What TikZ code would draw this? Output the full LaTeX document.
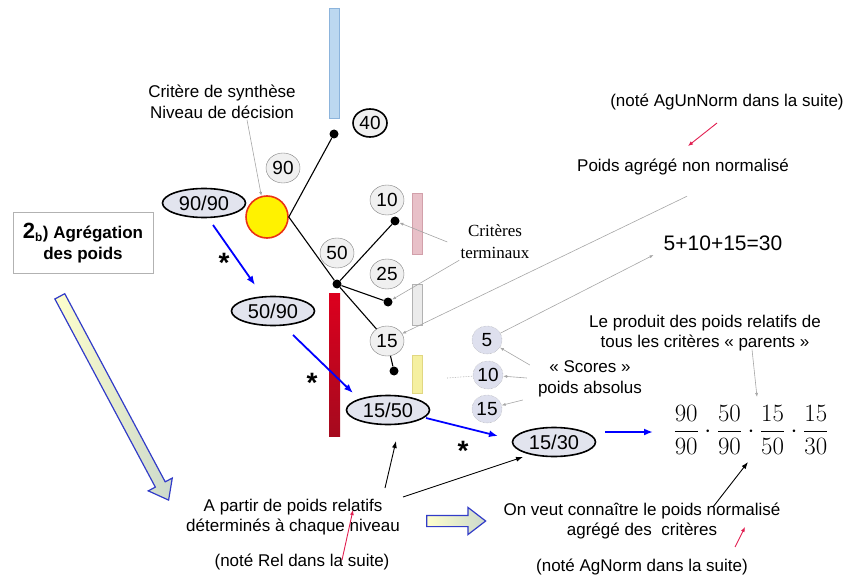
\documentclass[tikz,border=0pt]{standalone}
\usepackage[no-math]{fontspec}
\setmainfont{Liberation Sans}
\newfontfamily\timesfont{Liberation Serif}
\usetikzlibrary{arrows.meta,shapes.geometric,shapes.arrows}

\definecolor{ratiofill}{RGB}{226,228,238}
\definecolor{scorefill}{RGB}{222,224,238}
\definecolor{arrowblue}{RGB}{50,60,200}
\definecolor{notered}{RGB}{225,30,80}

\begin{document}
\begin{tikzpicture}[x=1pt,y=-1pt,>=latex,
  txt/.style={font=\fontsize{17}{20.5}\selectfont, align=center, inner sep=1pt},
  wt/.style={ellipse, draw=gray, fill=black!6, minimum width=34pt, minimum height=30pt, inner sep=0pt, font=\fontsize{19}{19}\selectfont},
  sc/.style={ellipse, draw=gray!80, densely dotted, fill=scorefill, minimum width=30pt, minimum height=28pt, inner sep=0pt, font=\fontsize{19}{19}\selectfont},
  ratio/.style={ellipse, draw, line width=1.6pt, fill=ratiofill, minimum width=83pt, minimum height=29pt, inner sep=0pt, font=\fontsize{20}{20}\selectfont},
  knot/.style={circle, fill, inner sep=0pt, minimum size=9pt},
  bar/.style={rectangle, inner sep=0pt, minimum width=10pt},
  tree/.style={line width=1.1pt},
  gline/.style={draw=gray!70, line width=0.6pt, -{Latex[length=4pt,width=3pt]}},
  bline/.style={line width=0.9pt, -{Latex[length=7pt,width=5pt]}},
  rline/.style={draw=notered, line width=0.9pt, -{Latex[length=5pt,width=4pt]}},
  weight/.style={draw=blue, line width=1.8pt, -{Latex[length=9pt,width=7pt]}},
  star/.style={font=\fontsize{28}{28}\bfseries, inner sep=0pt},
  hollow/.style={single arrow, draw=arrowblue, line width=1.2pt, inner sep=5pt,
    single arrow head extend=8pt, single arrow tip angle=75,
    left color=yellow!20, right color=green!15!gray!35}]
  \useasboundingbox (0,0) rectangle (845,577);

  \node[bar, fill={rgb,255:red,188;green,216;blue,240}, draw={rgb,255:red,140;green,180;blue,220}, minimum height=110pt] (bbar) at (334.5,63) {};
  \node[bar, top color={rgb,255:red,220;green,0;blue,30}, bottom color={rgb,255:red,165;green,10;blue,30}, minimum width=11pt, minimum height=143pt] (rbar) at (334.5,365) {};
  \node[bar, fill={rgb,255:red,232;green,192;blue,200}, draw={rgb,255:red,210;green,160;blue,170}, minimum height=61pt] (pbar) at (417,223.5) {};
  \node[bar, fill=black!8, draw=black!30, minimum height=41pt] (gbar) at (417,304.5) {};
  \node[bar, fill={rgb,255:red,245;green,240;blue,160}, draw={rgb,255:red,225;green,215;blue,130}, minimum height=38pt] (ybar) at (417,374) {};

  \node[knot] (d40)  at (334,134) {};
  \node[circle, draw={rgb,255:red,235;green,50;blue,20}, line width=1.6pt, fill=yellow, minimum size=42pt] (yel) at (267,217) {};
  \node[knot] (junc) at (337,284) {};
  \node[knot] (d10)  at (395,221) {};
  \node[knot] (d25)  at (388,302) {};
  \node[knot] (d15)  at (394,371) {};
  \node[wt, draw=black, line width=1.6pt, minimum height=28pt] (c40) at (370,123) {40};
  \node[wt] (c90) at (283,168) {90};
  \node[wt] (c50) at (337,253) {50};
  \node[wt] (c10) at (387,200) {10};
  \node[wt] (c25) at (387,274) {25};
  \node[wt] (c15) at (387,341) {15};
  \draw[tree] (d40) -- (yel.east) -- (junc);
  \draw[tree] (junc) -- (d10);
  \draw[tree] (junc) -- (d25);
  \draw[tree] (junc) -- (c15) -- (d15);

  \node[ratio] (r9090) at (204,203) {90/90};
  \node[ratio] (r5090) at (273,311) {50/90};
  \node[ratio] (r1550) at (388,410) {15/50};
  \node[ratio] (r1530) at (554,442) {15/30};

  \node[sc] (s5)  at (487,340) {5};
  \node[sc] (s10) at (488,375) {10};
  \node[sc] (s15) at (487,409) {15};

  \node[txt] (synth)   at (222,102) {Critère de synthèse\\Niveau de décision};
  \node[txt] (aunn)    at (727,102) {(noté AgUnNorm dans la suite)};
  \node[txt] (pann)    at (683,167) {Poids agrégé non normalisé};
  \node[txt, font=\fontsize{21}{21}\selectfont] (sum) at (723,243) {5+10+15=30};
  \node[txt, font=\timesfont\fontsize{17}{22}\selectfont] (critt) at (495,242) {Critères\\terminaux};
  \node[txt] (prodtxt) at (705,333) {Le produit des poids relatifs de\\tous les critères « parents »};
  \node[txt] (scores)  at (590,379) {« Scores »\\poids absolus};
  \node (prod) at (751,430) {\fontsize{24.88}{30}\selectfont $\displaystyle\frac{90}{90}\cdot\frac{50}{90}\cdot\frac{15}{50}\cdot\frac{15}{30}$};
  \node[txt] (veut)    at (642,521) {On veut connaître le poids normalisé\\agrégé des\ \ critères};
  \node[txt] (agn)     at (642,567) {(noté AgNorm dans la suite)};
  \node[txt] (apartir) at (293,517) {A partir de poids relatifs\\déterminés à chaque niveau};
  \node[txt] (rel)     at (302,562) {(noté Rel dans la suite)};
  \node[txt, draw=gray!60, line width=1pt, fill=white, font=\bfseries\fontsize{17}{21}\selectfont, minimum width=140pt, minimum height=60pt] (agg) at (83,243) {{\fontsize{22}{22}\selectfont 2}\textsubscript{b}) Agrégation\\des poids};

  \node[hollow, minimum height=231pt, rotate=-61.9] (down) at (112.5,395) {};
  \node[hollow, minimum height=59pt] (right) at (452.5,521) {};

  \draw[weight] ([shift={(9,22)}]r9090.center) -- ([shift={(-18,-26)}]r5090.center);
  \draw[weight] ([shift={(20,24)}]r5090.center) -- ([shift={(-35,-17)}]r1550.center);
  \draw[weight] ([shift={(38,8)}]r1550.center) -- ([shift={(-56,-6)}]r1530.center);
  \draw[weight] ([shift={(51,-10)}]r1530.center) -- ([shift={(-98,2)}]prod.center);
  \node[star] (st1) at (224,263) {*};
  \node[star] (st2) at (312,383) {*};
  \node[star] (st3) at (463,451) {*};

  \draw[gline] ([shift={(25,0)}]synth.south) -- (yel.105);
  \draw[gline] ([shift={(-12,0)}]critt.west) -- (d10);
  \draw[gline] (critt.south west) -- (d25);
  \draw[gline] ([shift={(4,20)}]pann.south) -- (c15);
  \draw[gline] (s5) -- ([shift={(-9,12)}]sum.west);
  \draw[gline] ([shift={(-7,-14)}]scores.west) -- (s5);
  \draw[gline] ([shift={(-10,-1)}]scores.west) -- (s10);
  \draw[gline] ([shift={(-14,21)}]scores.west) -- (s15);
  \draw[gray!70, densely dotted, line width=0.6pt] ([shift={(25,4)}]ybar.east) -- (s10);
  \draw[gline] ([shift={(47,-3)}]prodtxt.south) -- ([shift={(6,-33)}]prod.center);

  \draw[rline] ([shift={(-10,21)}]aunn.center) -- ([shift={(5,-21)}]pann.center);
  \draw[rline] ([shift={(93,-20)}]agn.center) -- ([shift={(103,6)}]veut.center);
  \draw[rline] ([shift={(40,-2)}]rel.center) -- ([shift={(60,-7)}]apartir.center);

  \draw[bline] ([shift={(92,-29)}]apartir.center) -- ([shift={(8,31)}]r1550.center);
  \draw[bline] ([shift={(110,-20)}]apartir.center) -- ([shift={(-31,15)}]r1530.center);
  \draw[bline] ([shift={(71,-14)}]veut.center) -- ([shift={(-3,32)}]prod.center);
\end{tikzpicture}
\end{document}
